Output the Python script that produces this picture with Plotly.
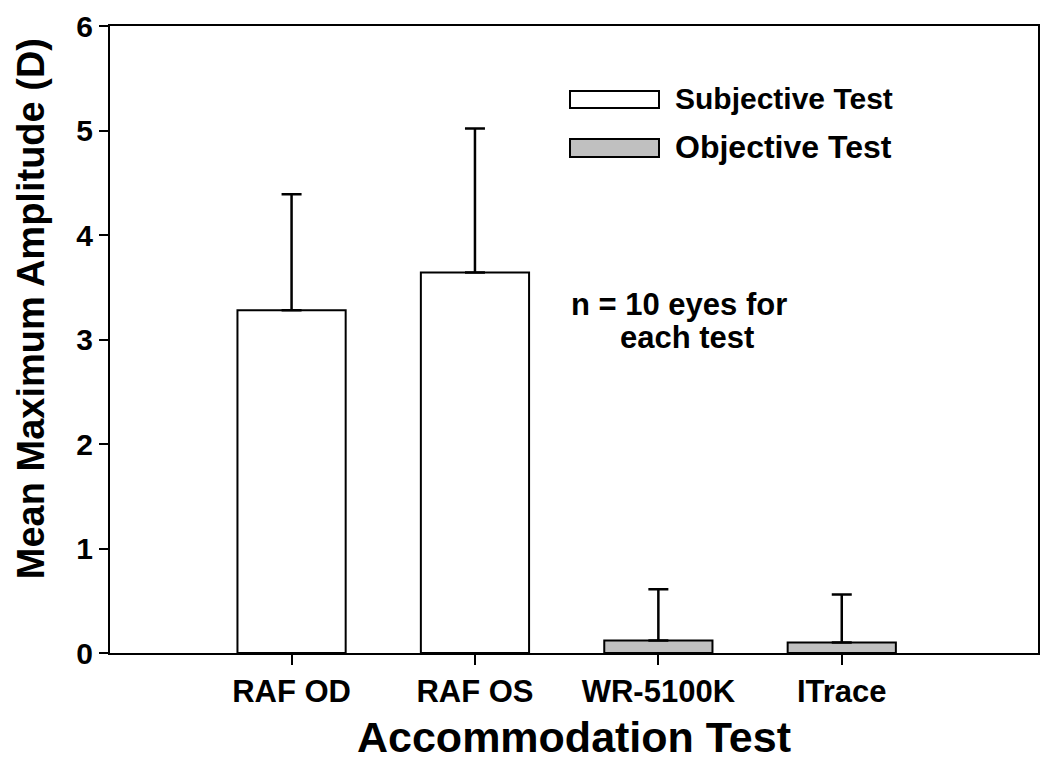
import plotly.graph_objects as go

# Data
subj_categories = ["RAF OD", "RAF OS"]
subj_means = [3.28, 3.64]
subj_sd = [1.11, 1.38]

obj_categories = ["WR-5100K", "ITrace"]
obj_means = [0.12, 0.10]
obj_sd = [0.49, 0.46]

all_categories = subj_categories + obj_categories
y_ticks = [0, 1, 2, 3, 4, 5, 6]

FONT = "Liberation Sans, Arial, Helvetica, sans-serif"

fig = go.Figure()
fig.add_trace(go.Bar(
    x=subj_categories, y=subj_means, name="Subjective Test",
    width=0.59,
    marker=dict(color="white", line=dict(color="black", width=2)),
    error_y=dict(type="data", array=subj_sd, arrayminus=[0] * len(subj_sd),
                 symmetric=False, color="black", thickness=2.5, width=10),
    showlegend=False,
))
fig.add_trace(go.Bar(
    x=obj_categories, y=obj_means, name="Objective Test",
    width=0.59,
    marker=dict(color="#c0c0c0", line=dict(color="black", width=2)),
    error_y=dict(type="data", array=obj_sd, arrayminus=[0] * len(obj_sd),
                 symmetric=False, color="black", thickness=2.5, width=10),
    showlegend=False,
))

# page body margin offsets the figure by 8px
OFF = 8
W, H = 1034, 753
plot_left, plot_right = 110 - OFF, 1038 - OFF
plot_top, plot_bottom = 26 - OFF, 652.6 - OFF
ml, mr, mt, mb = plot_left, W - plot_right, plot_top, H - plot_bottom
pw = W - ml - mr
ph = H - mt - mb


def px_x(x):
    return (x - OFF - ml) / pw


def px_y(y):
    return (H - mb - (y - OFF)) / ph


fig.update_layout(
    width=W, height=H,
    margin=dict(l=ml, r=mr, t=mt, b=mb, autoexpand=False),
    plot_bgcolor="white", paper_bgcolor="white",
    barmode="overlay",
    font=dict(family=FONT, color="black"),
    xaxis=dict(
        type="category", categoryorder="array", categoryarray=all_categories,
        range=[-0.99, 4.07],
        showline=True, linecolor="black", linewidth=2, mirror=True,
        ticks="outside", ticklen=10, tickwidth=2, tickcolor="black",
        tickfont=dict(family=FONT, size=31, weight="bold", color="black"),
        showgrid=False, zeroline=False,
        title=dict(text="Accommodation Test", standoff=18,
                   font=dict(family=FONT, size=43, weight="bold", color="black")),
    ),
    yaxis=dict(
        range=[0, 6], tickvals=y_ticks,
        showline=True, linecolor="black", linewidth=2, mirror=True,
        ticks="outside", ticklen=9, tickwidth=2, tickcolor="black",
        tickfont=dict(family=FONT, size=30, weight="bold", color="black"),
        showgrid=False, zeroline=False,
    ),
)

# Y-axis title as annotation
fig.add_annotation(
    text="Mean Maximum Amplitude (D)", textangle=-90,
    xref="paper", yref="paper", x=px_x(31), y=px_y(309),
    xanchor="center", yanchor="middle", showarrow=False,
    font=dict(family=FONT, size=38, weight="bold", color="black"),
)

# Custom legend
legend_items = [
    ("Subjective Test", "white", 91, 108, 30),
    ("Objective Test", "#c0c0c0", 139, 157, 32),
]
for label, color, y0, y1, fs in legend_items:
    fig.add_shape(
        type="rect", xref="paper", yref="paper",
        x0=px_x(570), x1=px_x(659), y0=px_y(y1), y1=px_y(y0),
        fillcolor=color, line=dict(color="black", width=2),
    )
    fig.add_annotation(
        text=label, xref="paper", yref="paper",
        x=px_x(673), y=px_y((y0 + y1) / 2 - 1),
        xanchor="left", yanchor="middle", showarrow=False,
        font=dict(family=FONT, size=fs, weight="bold", color="black"),
    )

# n annotation
fig.add_annotation(
    text="n = 10 eyes for", xref="paper", yref="paper",
    x=px_x(679), y=px_y(304), xanchor="center", yanchor="middle",
    showarrow=False, font=dict(family=FONT, size=31, weight="bold", color="black"),
)
fig.add_annotation(
    text="each test", xref="paper", yref="paper",
    x=px_x(687), y=px_y(337), xanchor="center", yanchor="middle",
    showarrow=False, font=dict(family=FONT, size=31, weight="bold", color="black"),
)

fig.write_html("out.html")
